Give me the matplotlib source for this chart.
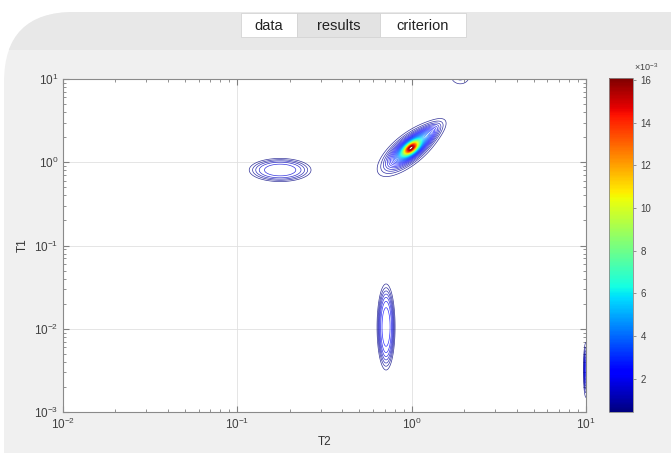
import numpy as np
import matplotlib
matplotlib.use("Agg")
import matplotlib.pyplot as plt
from matplotlib.patches import FancyBboxPatch, Rectangle
from matplotlib.colors import Normalize
from matplotlib import cm

plt.rcParams['font.family'] = ['Liberation Sans', 'DejaVu Sans']
plt.rcParams['mathtext.default'] = 'regular'

# peaks of the criterion surface (centre T2, centre T1, amplitude)
peak_T2 = [0.96, 0.99, 1.2, 0.176, 0.713, 1.9, 10.0]
peak_T1 = [1.42, 1.48, 2.05, 0.807, 0.0105, 10.9, 0.0032]
peak_amp = [5.0e-3, 11.1e-3, 2.0e-3, 1.8e-3, 2.4e-3, 0.9e-3, 2.5e-3]
# widths in T2-decades (along / across), tilt angle, peak sharpness
peak_sa = [0.100, 0.036, 0.075, 0.115, 0.032, 0.043, 0.008]
peak_sp = [0.040, 0.017, 0.026, 0.043, 0.153, 0.038, 0.085]
peak_ang = [39, 39, 39, 0, 0, 0, 0]
peak_pow = [1, 1, 1, 2, 2, 1, 1]

vmin, vmax = 0.44e-3, 16.1e-3
level_step = 0.3e-3
cbar_ticks = [2, 4, 6, 8, 10, 12, 14, 16]
tabs = ['data', 'results', 'criterion']

ASPECT = 83.25 / 174.3   # y-decade drawn about half as tall as x-decade

lx = np.linspace(-2, 1, 900)
ly = np.linspace(-3, 1, 700)
LX, LY = np.meshgrid(lx, ly)
Z = np.zeros_like(LX)
for t2, t1, a, sa, sp, ang, p in zip(peak_T2, peak_T1, peak_amp, peak_sa,
                                      peak_sp, peak_ang, peak_pow):
    dx = LX - np.log10(t2)
    dy = (LY - np.log10(t1)) * ASPECT
    th = np.deg2rad(ang)
    u = dx * np.cos(th) + dy * np.sin(th)
    w = -dx * np.sin(th) + dy * np.cos(th)
    q = u**2 / (2 * sa**2) + w**2 / (2 * sp**2)
    Z += a * np.exp(-q**p)

fig = plt.figure(figsize=(6.71, 4.53), dpi=100, facecolor='white')

# GUI panel background
bg = fig.add_axes([0, 0, 1, 1], zorder=-5)
bg.set_xlim(0, 671)
bg.set_ylim(453, 0)
bg.axis('off')
panel = FancyBboxPatch((4, 12), 740, 520, boxstyle="round,pad=0,rounding_size=70",
                       fc='#f0f0f0', ec='none')
bg.add_patch(panel)
band = Rectangle((0, 12), 700, 38, fc='#e8e8e8', ec='none')
bg.add_patch(band)
band.set_clip_path(panel)
tab_x = [241, 297, 380, 466]
for i, name in enumerate(tabs):
    fc = '#e3e3e3' if name == 'results' else 'white'
    bg.add_patch(Rectangle((tab_x[i], 13), tab_x[i + 1] - tab_x[i], 24,
                           fc=fc, ec='#d4d4d4', lw=0.6))
    bg.text((tab_x[i] + tab_x[i + 1]) / 2, 25.5, name, ha='center', va='center',
            fontsize=10.5, color='#222222')

ax = fig.add_axes([63 / 671, 1 - 412 / 453, 523 / 671, 333 / 453])
norm = Normalize(vmin=vmin, vmax=vmax)
levels = np.arange(vmin, vmax, level_step)
ax.contour(10**LX, 10**LY, Z, levels=levels, cmap='jet', norm=norm,
           linewidths=0.5, alpha=0.8)
ax.set_xscale('log')
ax.set_yscale('log')
ax.set_xlim(1e-2, 10)
ax.set_ylim(1e-3, 10)
ax.grid(True, which='major', color='#e0e0e0', lw=0.6)
ax.set_axisbelow(True)
ax.tick_params(which='both', direction='in', top=True, right=True,
               colors='#808080', labelcolor='#404040', labelsize=8.5)
ax.tick_params(which='major', length=4)
ax.tick_params(which='minor', length=2)
for s in ax.spines.values():
    s.set_color('#8a8a8a')
    s.set_linewidth(0.8)
ax.set_xlabel('T2', fontsize=8.5, color='#333333', labelpad=3)
ax.set_ylabel('T1', fontsize=8.5, color='#333333', labelpad=4)

cax = fig.add_axes([609 / 671, 1 - 412 / 453, 24 / 671, 334 / 453])
cb = fig.colorbar(cm.ScalarMappable(norm=norm, cmap='jet'), cax=cax)
cb.set_ticks([t * 1e-3 for t in cbar_ticks])
cb.set_ticklabels([str(t) for t in cbar_ticks])
cb.ax.tick_params(labelsize=7, colors='#808080', labelcolor='#404040',
                  length=2, width=0.6)
cb.outline.set_edgecolor('#8a8a8a')
cb.outline.set_linewidth(0.6)
cax.text(1.05, 1.015, r'$\times10^{-3}$', transform=cax.transAxes,
         fontsize=6.5, color='#404040', va='bottom', ha='left')

fig.savefig('out.png', dpi=100, facecolor='white')
